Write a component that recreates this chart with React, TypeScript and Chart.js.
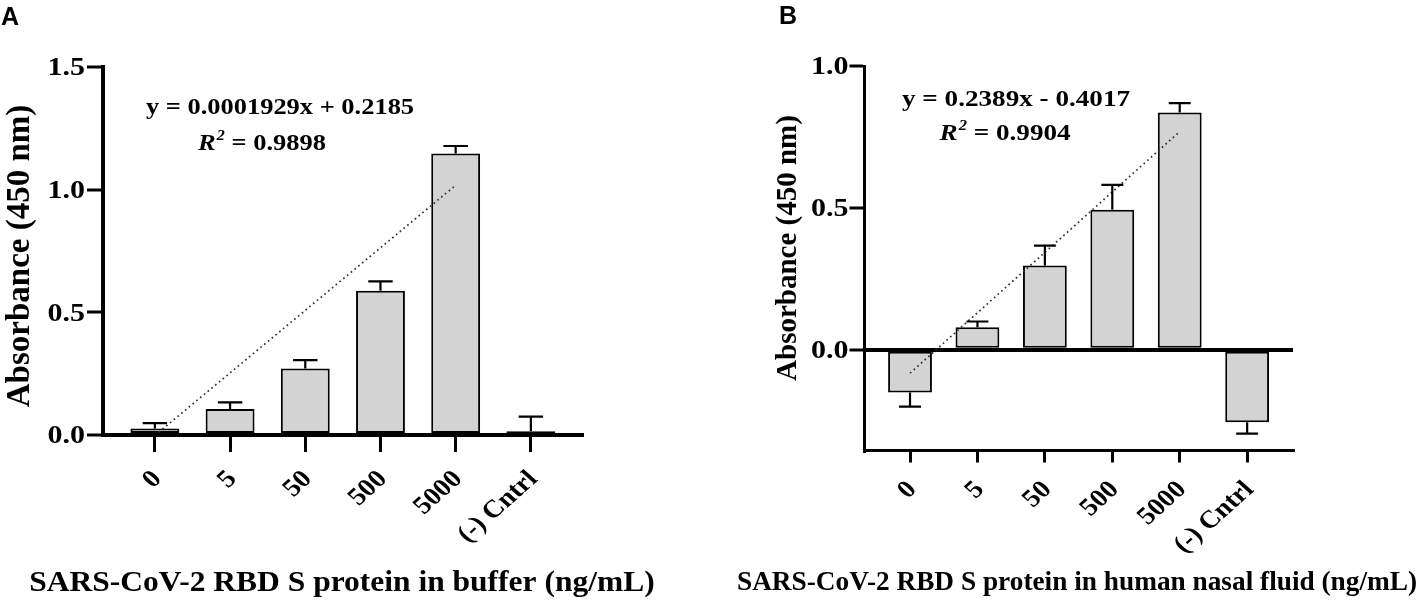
import React, { useEffect, useRef } from "react";
import { Chart, registerables } from "chart.js";

Chart.register(...registerables);

// ---------- data ----------
const categories = ["0", "5", "50", "500", "5000", "(-) Cntrl"];

const bufferMeans = [0.027, 0.106, 0.271, 0.588, 1.147, 0.015];
const bufferErrors = [0.021, 0.027, 0.034, 0.038, 0.031, 0.06];
const bufferTrendX = [0.05, 4];
const bufferTrendY = [0.011, 1.018];
const bufferYTicks = [0, 0.5, 1.0, 1.5];

const nasalMeans = [-0.15, 0.08, 0.297, 0.494, 0.836, -0.255];
const nasalErrors = [0.05, 0.02, 0.07, 0.087, 0.033, 0.04];
const nasalTrendX = [0, 4];
const nasalTrendY = [-0.082, 0.769];
const nasalYTicks = [0, 0.5, 1.0];

const yAxisTitle = "Absorbance (450 nm)";
const bufferXTitle = "SARS-CoV-2 RBD S protein in buffer (ng/mL)";
const nasalXTitle = "SARS-CoV-2 RBD S protein in human nasal fluid (ng/mL)";
const bufferEquation = "y = 0.0001929x + 0.2185";
const bufferR2 = "0.9898";
const nasalEquation = "y = 0.2389x - 0.4017";
const nasalR2 = "0.9904";

// ---------- styling ----------
const SERIF = '"Liberation Serif", "Times New Roman", Times, serif';
const SANS = '"Liberation Sans", Arial, Helvetica, sans-serif';
const BAR_FILL = "#d3d3d3";

type TextItem = { text: string; x: number; y: number; size: number; sx: number; align: CanvasTextAlign; family?: string; rot?: number };

type PanelSpec = {
  letter: string;
  letterX: number;
  letterY: number;
  means: number[];
  errors: number[];
  trendX: number[];
  trendY: number[];
  yTicks: number[];
  yMin: number;
  yMax: number;
  xMin: number;
  xMax: number;
  padding: { left: number; right: number; top: number; bottom: number };
  xTickLen: number;
  yTickLen: number;
  xAxisWidth: number;
  yAxisWidth: number;
  zeroLine: boolean;
  yLabelGap: number;
  xLabelGap: number;
  tickFont: number;
  yTickSx: number;
  xTickSx: number;
  yTitleSize: number;
  yTitleX: number;
  yTitleY: number;
  xTitle: string;
  xTitleX: number;
  xTitleY: number;
  xTitleSize: number;
  xTitleSx: number;
  eq: string;
  eqX: number;
  eqY: number;
  r2: string;
  r2X: number;
  r2Y: number;
  eqSize: number;
  eqSx: number;
};

function drawText(ctx: CanvasRenderingContext2D, t: TextItem) {
  ctx.save();
  ctx.translate(t.x, t.y);
  ctx.scale(t.sx, 1);
  if (t.rot) ctx.rotate(t.rot);
  ctx.font = `bold ${t.size}px ${t.family || SERIF}`;
  ctx.textAlign = t.align;
  ctx.textBaseline = "alphabetic";
  ctx.fillStyle = "#000";
  ctx.fillText(t.text, 0, 0);
  ctx.restore();
}

function drawR2(ctx: CanvasRenderingContext2D, cx: number, baseline: number, size: number, sx: number, value: string) {
  ctx.save();
  ctx.translate(cx, baseline);
  ctx.scale(sx, 1);
  const fR = `italic bold ${size}px ${SERIF}`;
  const f2 = `italic bold ${Math.round(size * 0.62)}px ${SERIF}`;
  const fRest = `bold ${size}px ${SERIF}`;
  const rest = " = " + value;
  ctx.font = fR;
  const wR = ctx.measureText("R").width;
  ctx.font = f2;
  const w2 = ctx.measureText("2").width;
  ctx.font = fRest;
  const wRest = ctx.measureText(rest).width;
  const total = wR + 1 + w2 + wRest;
  let x = -total / 2;
  ctx.textAlign = "left";
  ctx.textBaseline = "alphabetic";
  ctx.fillStyle = "#000";
  ctx.font = fR;
  ctx.fillText("R", x, 0);
  x += wR + 1;
  ctx.font = f2;
  ctx.fillText("2", x, -size * 0.42);
  x += w2;
  ctx.font = fRest;
  ctx.fillText(rest, x, 0);
  ctx.restore();
}

function makeOverlay(spec: PanelSpec) {
  return {
    id: "panelOverlay" + spec.letter,
    afterDatasetsDraw(chart: any) {
      const ctx: CanvasRenderingContext2D = chart.ctx;
      const y = chart.scales.y;
      const meta = chart.getDatasetMeta(1);
      ctx.save();
      ctx.strokeStyle = "#000";
      ctx.lineWidth = 2.2;
      spec.means.forEach((m, i) => {
        const el = meta.data[i];
        if (!el) return;
        const e = spec.errors[i];
        const end = m >= 0 ? m + e : m - e;
        const px = el.x;
        const y0 = y.getPixelForValue(m);
        const y1 = y.getPixelForValue(end);
        const half = el.width * 0.25;
        ctx.beginPath();
        ctx.moveTo(px, y0);
        ctx.lineTo(px, y1);
        ctx.moveTo(px - half, y1);
        ctx.lineTo(px + half, y1);
        ctx.stroke();
      });
      ctx.restore();
    },
    afterDraw(chart: any) {
      const ctx: CanvasRenderingContext2D = chart.ctx;
      const xs = chart.scales.x;
      const ys = chart.scales.y;
      // panel letter
      drawText(ctx, { text: spec.letter, x: spec.letterX, y: spec.letterY, size: 25, sx: 1, align: "left", family: SANS });
      // y tick labels
      spec.yTicks.forEach((v) => {
        const py = ys.getPixelForValue(v);
        drawText(ctx, {
          text: v.toFixed(1),
          x: ys.left - spec.yLabelGap,
          y: py + spec.tickFont * 0.338,
          size: spec.tickFont,
          sx: spec.yTickSx,
          align: "right",
        });
      });
      // x tick labels (rotated 45 degrees)
      categories.forEach((c, i) => {
        const px = xs.getPixelForValue(i);
        const ay = xs.top + spec.xTickLen + spec.xLabelGap;
        ctx.save();
        ctx.translate(px + 1, ay);
        ctx.scale(spec.xTickSx, 1);
        ctx.rotate(-Math.PI / 4);
        ctx.font = `bold ${spec.tickFont}px ${SERIF}`;
        ctx.textAlign = "right";
        ctx.textBaseline = "alphabetic";
        ctx.fillStyle = "#000";
        ctx.fillText(c, 0, spec.tickFont * 0.338);
        ctx.restore();
      });
      // y axis title
      ctx.save();
      ctx.translate(spec.yTitleX, spec.yTitleY);
      ctx.rotate(-Math.PI / 2);
      ctx.font = `bold ${spec.yTitleSize}px ${SERIF}`;
      ctx.textAlign = "center";
      ctx.textBaseline = "alphabetic";
      ctx.fillStyle = "#000";
      ctx.fillText(yAxisTitle, 0, 0);
      ctx.restore();
      // x axis title
      drawText(ctx, { text: spec.xTitle, x: spec.xTitleX, y: spec.xTitleY, size: spec.xTitleSize, sx: spec.xTitleSx, align: "center" });
      // regression equation
      drawText(ctx, { text: spec.eq, x: spec.eqX, y: spec.eqY, size: spec.eqSize, sx: spec.eqSx, align: "center" });
      drawR2(ctx, spec.r2X, spec.r2Y, spec.eqSize, spec.eqSx, spec.r2);
    },
  };
}

function buildConfig(spec: PanelSpec): any {
  return {
    type: "bar",
    data: {
      datasets: [
        {
          type: "line",
          order: 0,
          data: spec.trendX.map((x, i) => ({ x, y: spec.trendY[i] })),
          borderColor: "#333333",
          borderWidth: 1.7,
          borderDash: [1.7, 3.2],
          pointRadius: 0,
          fill: false,
        },
        {
          type: "bar",
          order: 1,
          data: spec.means.map((m, i) => ({ x: i, y: m })),
          backgroundColor: BAR_FILL,
          borderColor: "#000",
          borderWidth: 2,
          borderSkipped: false,
          barPercentage: 0.65,
          categoryPercentage: 1,
        },
      ],
    },
    options: {
      responsive: true,
      maintainAspectRatio: false,
      animation: false,
      events: [],
      layout: { padding: spec.padding },
      plugins: {
        legend: { display: false },
        tooltip: { enabled: false },
        title: { display: false },
      },
      scales: {
        x: {
          type: "linear",
          offset: false,
          min: spec.xMin,
          max: spec.xMax,
          afterBuildTicks: (s: any) => {
            s.ticks = categories.map((_, i) => ({ value: i }));
          },
          ticks: { display: false },
          grid: {
            display: true,
            offset: false,
            drawOnChartArea: false,
            drawTicks: true,
            tickLength: spec.xTickLen,
            tickWidth: 3,
            tickColor: "#000",
            color: "#000",
            lineWidth: 3,
          },
          border: { display: true, color: "#000", width: spec.xAxisWidth },
        },
        y: {
          type: "linear",
          min: spec.yMin,
          max: spec.yMax,
          afterBuildTicks: (s: any) => {
            s.ticks = spec.yTicks.map((v) => ({ value: v }));
          },
          ticks: { display: false },
          grid: {
            display: true,
            drawOnChartArea: spec.zeroLine,
            drawTicks: true,
            tickLength: spec.yTickLen,
            tickWidth: 3,
            tickColor: "#000",
            lineWidth: 4,
            color: (c: any) => (c.tick && c.tick.value === 0 ? "#000" : "rgba(0,0,0,0)"),
          },
          border: { display: true, color: "#000", width: spec.yAxisWidth },
        },
      },
    },
    plugins: [makeOverlay(spec)],
  };
}

const panelA: PanelSpec = {
  letter: "A",
  letterX: 1,
  letterY: 25,
  means: bufferMeans,
  errors: bufferErrors,
  trendX: bufferTrendX,
  trendY: bufferTrendY,
  yTicks: bufferYTicks,
  yMin: 0,
  yMax: 1.5,
  xMin: -0.69,
  xMax: 5.68,
  padding: { left: 87, right: 127, top: 67, bottom: 151 },
  xTickLen: 17,
  yTickLen: 16,
  xAxisWidth: 4,
  yAxisWidth: 4,
  zeroLine: false,
  yLabelGap: 2,
  xLabelGap: 22,
  tickFont: 25,
  yTickSx: 1.2,
  xTickSx: 1.12,
  yTitleSize: 33,
  yTitleX: 28.5,
  yTitleY: 256,
  xTitle: bufferXTitle,
  xTitleX: 342,
  xTitleY: 591,
  xTitleSize: 30,
  xTitleSx: 1.05,
  eq: bufferEquation,
  eqX: 280,
  eqY: 114,
  r2: bufferR2,
  r2X: 262,
  r2Y: 150,
  eqSize: 23,
  eqSx: 1.15,
};

const panelB: PanelSpec = {
  letter: "B",
  letterX: 70,
  letterY: 24,
  means: nasalMeans,
  errors: nasalErrors,
  trendX: nasalTrendX,
  trendY: nasalTrendY,
  yTicks: nasalYTicks,
  yMin: -0.3545,
  yMax: 1.0,
  xMin: -0.675,
  xMax: 5.68,
  padding: { left: 140.5, right: 125, top: 66, bottom: 140.5 },
  xTickLen: 12,
  yTickLen: 15,
  xAxisWidth: 3,
  yAxisWidth: 3,
  zeroLine: true,
  yLabelGap: 1,
  xLabelGap: 22,
  tickFont: 25,
  yTickSx: 1.2,
  xTickSx: 1.12,
  yTitleSize: 29,
  yTitleX: 87,
  yTitleY: 248,
  xTitle: nasalXTitle,
  xTitleX: 368,
  xTitleY: 590,
  xTitleSize: 28,
  xTitleSx: 0.975,
  eq: nasalEquation,
  eqX: 307,
  eqY: 106,
  r2: nasalR2,
  r2X: 296,
  r2Y: 140,
  eqSize: 23,
  eqSx: 1.18,
};

function Panel({ spec, left }: { spec: PanelSpec; left: number }) {
  const ref = useRef<HTMLCanvasElement>(null);
  useEffect(() => {
    if (!ref.current) return;
    const chart = new Chart(ref.current, buildConfig(spec));
    return () => chart.destroy();
  }, [spec]);
  return (
    <div style={{ position: "absolute", left, top: 0, width: 709, height: 603 }}>
      <canvas ref={ref} />
    </div>
  );
}

export default function App() {
  useEffect(() => {
    document.body.style.margin = "0";
  }, []);
  return (
    <div
      style={{
        position: "absolute",
        left: 0,
        top: 0,
        width: 1418,
        height: 603,
        background: "#fff",
        overflow: "hidden",
      }}
    >
      <Panel spec={panelA} left={0} />
      <Panel spec={panelB} left={709} />
    </div>
  );
}
